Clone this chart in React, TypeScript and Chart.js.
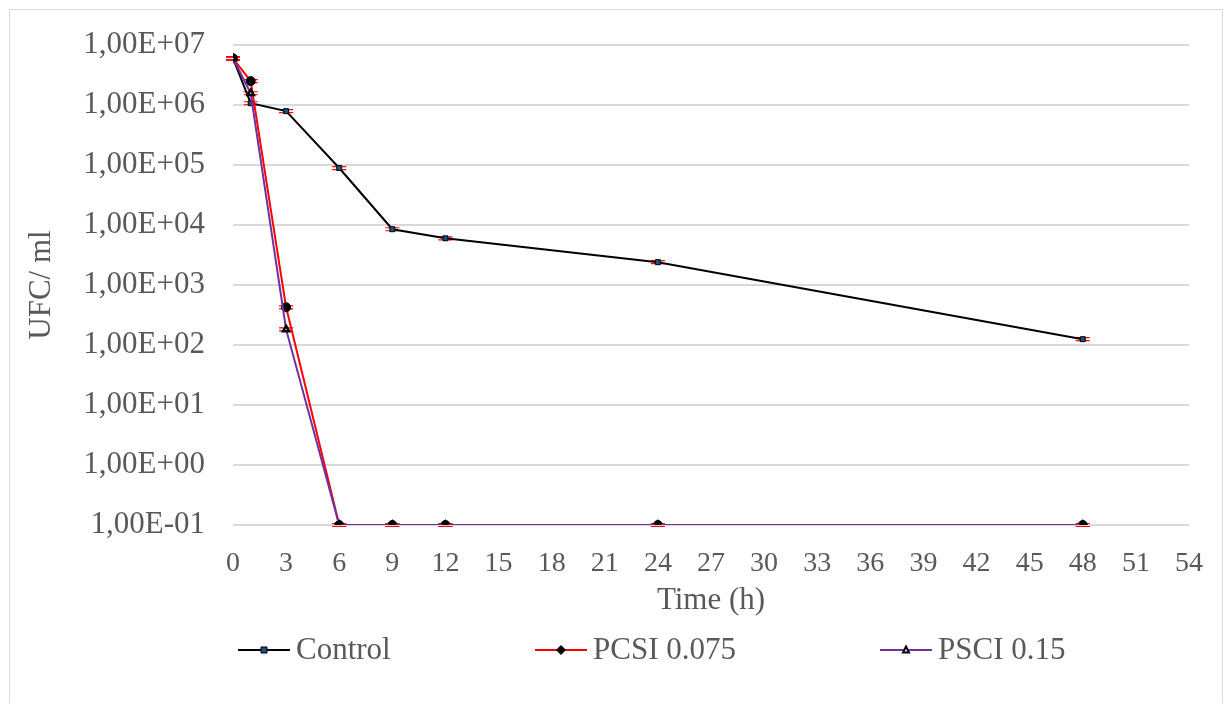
import React, { useEffect, useRef } from "react";
import { Chart, registerables } from "chart.js";

Chart.register(...registerables);

const timeH = [0, 1, 3, 6, 9, 12, 24, 48];
const controlValues = [6.0e6, 1.07e6, 7.9e5, 8.9e4, 8.5e3, 6.0e3, 2.4e3, 1.25e2];
const pcsiValues = [6.0e6, 2.5e6, 4.25e2, 0.1, 0.1, 0.1, 0.1, 0.1];
const psciValues = [6.0e6, 1.57e6, 1.82e2, 0.1, 0.1, 0.1, 0.1, 0.1];
const yTickValues = [1e-1, 1e0, 1e1, 1e2, 1e3, 1e4, 1e5, 1e6, 1e7];
const seriesNames = ["Control", "PCSI 0.075", "PSCI 0.15"];

const FONT = "'Liberation Serif', 'Times New Roman', serif";
const TEXT = "#595959";

function fmtSci(v: number): string {
  const e = Math.round(Math.log10(v));
  const s = e >= 0 ? "+" : "-";
  const a = Math.abs(e);
  return "1,00E" + s + (a < 10 ? "0" + a : String(a));
}

const errorBarPlugin = {
  id: "errorCaps",
  beforeDatasetsDraw(chart: any) {
    const ctx = chart.ctx;
    ctx.save();
    ctx.strokeStyle = "#FF0000";
    ctx.lineWidth = 1.2;
    chart.data.datasets.forEach((_: any, i: number) => {
      const meta = chart.getDatasetMeta(i);
      meta.data.forEach((pt: any) => {
        if (pt.skip) return;
        const x = pt.x;
        const y = pt.y;
        ctx.beginPath();
        ctx.moveTo(x - 7, y - 1.5);
        ctx.lineTo(x + 7, y - 1.5);
        ctx.moveTo(x - 7, y + 1.5);
        ctx.lineTo(x + 7, y + 1.5);
        ctx.stroke();
      });
    });
    ctx.restore();
  },
};

const frameLegendPlugin = {
  id: "frameLegend",
  afterDraw(chart: any) {
    const ctx = chart.ctx;
    ctx.save();
    ctx.strokeStyle = "#d9d9d9";
    ctx.lineWidth = 1;
    ctx.strokeRect(1.5, 1.5, chart.width - 2, chart.height + 10);
    const items = [
      { x: 230, text: seriesNames[0], idx: 0 },
      { x: 527, text: seriesNames[1], idx: 1 },
      { x: 872, text: seriesNames[2], idx: 2 },
    ];
    const y = 642;
    items.forEach((it) => {
      const ds = chart.data.datasets[it.idx];
      ctx.strokeStyle = ds.borderColor;
      ctx.lineWidth = 2;
      ctx.beginPath();
      ctx.moveTo(it.x, y);
      ctx.lineTo(it.x + 52, y);
      ctx.stroke();
      const cx = it.x + 26;
      ctx.fillStyle = ds.pointBackgroundColor;
      ctx.strokeStyle = ds.pointBorderColor;
      ctx.lineWidth = ds.pointStyle === "triangle" ? 2 : 1;
      ctx.beginPath();
      if (ds.pointStyle === "rect") {
        ctx.rect(cx - 3, y - 3, 6, 6);
      } else if (ds.pointStyle === "triangle") {
        ctx.moveTo(cx, y - 3.5);
        ctx.lineTo(cx + 3, y + 2.5);
        ctx.lineTo(cx - 3, y + 2.5);
        ctx.closePath();
      } else {
        ctx.moveTo(cx, y - 4.5);
        ctx.lineTo(cx + 4.5, y);
        ctx.lineTo(cx, y + 4.5);
        ctx.lineTo(cx - 4.5, y);
        ctx.closePath();
      }
      ctx.fill();
      ctx.stroke();
      ctx.fillStyle = TEXT;
      ctx.font = "31px " + FONT;
      ctx.textAlign = "left";
      ctx.textBaseline = "middle";
      ctx.fillText(it.text, it.x + 58, y + 1);
    });
    ctx.restore();
  },
};

export default function App() {
  const ref = useRef<HTMLCanvasElement | null>(null);

  useEffect(() => {
    if (!ref.current) return;
    const toPts = (vals: number[]) => timeH.map((t, i) => ({ x: t, y: vals[i] }));
    const chart = new Chart(ref.current, {
      type: "line",
      data: {
        datasets: [
          {
            label: seriesNames[0],
            data: toPts(controlValues),
            borderColor: "#000000",
            borderWidth: 2,
            pointStyle: "rect",
            pointRadius: 3.5,
            pointBackgroundColor: "#1F4E79",
            pointBorderColor: "#000000",
            pointBorderWidth: 1,
            order: 2,
          } as any,
          {
            label: seriesNames[1],
            data: toPts(pcsiValues),
            borderColor: "#FF0000",
            borderWidth: 2,
            pointStyle: "circle",
            pointRadius: 4.5,
            pointBackgroundColor: "#000000",
            pointBorderColor: "#000000",
            pointBorderWidth: 1,
            order: 1,
          } as any,
          {
            label: seriesNames[2],
            data: toPts(psciValues),
            borderColor: "#7030A0",
            borderWidth: 2,
            pointStyle: "triangle",
            pointRadius: 3.5,
            pointBackgroundColor: "#ffffff",
            pointBorderColor: "#000000",
            pointBorderWidth: 2.5,
            order: 0,
          } as any,
        ],
      },
      options: {
        responsive: false,
        animation: false,
        devicePixelRatio: 1,
        layout: { padding: { left: 15, right: 34, top: 37, bottom: 84 } },
        plugins: {
          legend: { display: false },
          tooltip: { enabled: false },
        },
        elements: { line: { tension: 0 } },
        scales: {
          x: {
            type: "linear",
            min: 0,
            max: 54,
            ticks: {
              stepSize: 3,
              color: TEXT,
              font: { family: FONT, size: 28 },
              padding: 22,
            },
            grid: { display: false, drawTicks: false },
            border: { display: false },
            title: {
              display: true,
              text: "Time (h)",
              color: TEXT,
              font: { family: FONT, size: 31 },
              padding: 0,
            },
            afterFit(scale: any) {
              scale.height = 94;
              scale.paddingLeft = 0;
              scale.paddingRight = 0;
            },
          },
          y: {
            type: "logarithmic",
            min: 0.1,
            max: 1e7,
            afterBuildTicks(scale: any) {
              scale.ticks = yTickValues.map((v) => ({ value: v, major: true }));
            },
            ticks: {
              color: TEXT,
              font: { family: FONT, size: 31 },
              padding: 28,
              autoSkip: false,
              callback: (v: any) => fmtSci(Number(v)),
            },
            grid: { color: "#d9d9d9", lineWidth: 2, drawTicks: false },
            border: { display: false },
            title: {
              display: true,
              text: "UFC/ ml",
              color: TEXT,
              font: { family: FONT, size: 31 },
              padding: 0,
            },
            afterFit(scale: any) {
              scale.width = 210;
              scale.paddingTop = 0;
              scale.paddingBottom = 0;
            },
          },
        },
      } as any,
      plugins: [errorBarPlugin, frameLegendPlugin],
    });
    return () => chart.destroy();
  }, []);

  return (
    <div style={{ width: 1215, height: 695 }}>
      <canvas ref={ref} width={1215} height={695} style={{ display: "block" }} />
    </div>
  );
}
